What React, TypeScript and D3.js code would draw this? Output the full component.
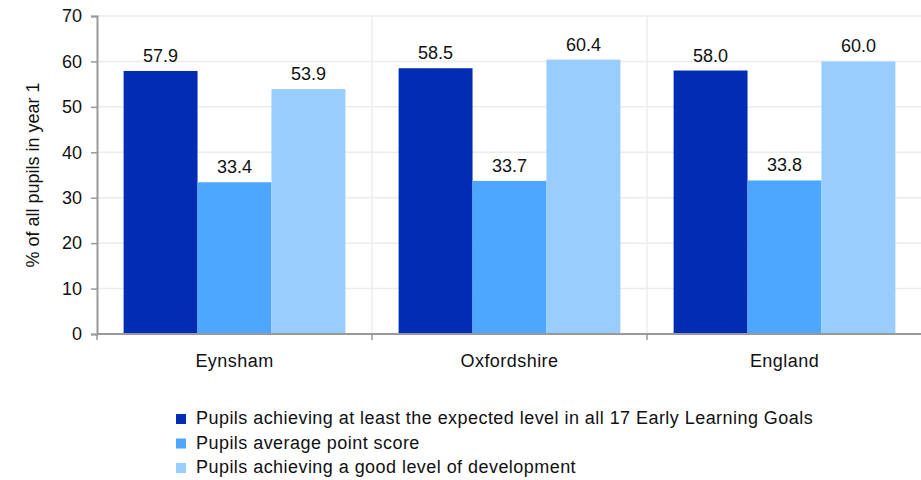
import React from 'react'
import * as d3 from 'd3'

const areas = ['Eynsham', 'Oxfordshire', 'England']
const seriesNames = [
  'Pupils achieving at least the expected level in all 17 Early Learning Goals',
  'Pupils average point score',
  'Pupils achieving a good level of development',
]
const expectedLevel = [57.9, 58.5, 58.0]
const averagePoint = [33.4, 33.7, 33.8]
const goodLevel = [53.9, 60.4, 60.0]
const yTicks = [0, 10, 20, 30, 40, 50, 60, 70]
const colours = ['#002db3', '#4da6ff', '#99ccff']

const width = 921
const height = 480
const font = 'Liberation Sans, Arial, sans-serif'
const fontSize = 18

const App: React.FunctionComponent = () => {
  const reference = React.useRef<SVGSVGElement>(null)

  React.useEffect(() => {
    const svg = d3.select(reference.current)
    svg.selectAll('*').remove()

    const left = 97
    const right = 922
    const top = 16
    const bottom = 334

    const x = d3.scaleBand<string>().domain(areas).range([left, right])
    const inner = d3
      .scaleBand<number>()
      .domain([0, 1, 2])
      .range([0, x.bandwidth()])
      .paddingOuter(0.36)
    const y = d3.scaleLinear().domain([0, 70]).range([bottom, top])

    // gridlines
    svg
      .append('g')
      .selectAll('line')
      .data(yTicks.filter(t => t > 0))
      .join('line')
      .attr('x1', left)
      .attr('x2', right)
      .attr('y1', d => y(d))
      .attr('y2', d => y(d))
      .attr('stroke', '#ececec')
      .attr('stroke-width', 1.5)

    svg
      .append('g')
      .selectAll('line')
      .data(areas.slice(1))
      .join('line')
      .attr('x1', d => x(d)!)
      .attr('x2', d => x(d)!)
      .attr('y1', top)
      .attr('y2', bottom)
      .attr('stroke', '#ececec')
      .attr('stroke-width', 1.5)

    const series = [expectedLevel, averagePoint, goodLevel]

    series.forEach((values, s) => {
      const g = svg.append('g')
      g.selectAll('rect')
        .data(values)
        .join('rect')
        .attr('x', (_, i) => x(areas[i])! + inner(s)!)
        .attr('width', inner.bandwidth())
        .attr('y', d => y(d))
        .attr('height', d => bottom - y(d))
        .attr('fill', colours[s])

      g.selectAll('text')
        .data(values)
        .join('text')
        .attr('x', (_, i) => x(areas[i])! + inner(s)! + inner.bandwidth() / 2)
        .attr('y', d => y(d) - 9)
        .attr('text-anchor', 'middle')
        .attr('font-family', font)
        .attr('font-size', fontSize)
        .attr('fill', '#111')
        .text(d => d.toFixed(1))
    })

    // y axis
    const yAxis = svg
      .append('g')
      .attr('transform', `translate(${left},0)`)
      .call(d3.axisLeft(y).tickValues(yTicks).tickSize(6).tickPadding(9))
    yAxis.select('.domain').attr('stroke', '#999').attr('stroke-width', 2)
    yAxis.selectAll('.tick line').attr('stroke', '#999').attr('stroke-width', 1.5)
    yAxis
      .selectAll('.tick text')
      .attr('font-family', font)
      .attr('font-size', fontSize)
      .attr('fill', '#111')

    // x axis
    const xAxis = svg.append('g').attr('transform', `translate(0,${bottom})`)
    xAxis
      .append('line')
      .attr('x1', left)
      .attr('x2', right)
      .attr('stroke', '#999')
      .attr('stroke-width', 2)
    xAxis
      .selectAll('line.tick')
      .data(areas)
      .join('line')
      .attr('class', 'tick')
      .attr('x1', d => x(d)!)
      .attr('x2', d => x(d)!)
      .attr('y1', 0)
      .attr('y2', 6)
      .attr('stroke', '#999')
      .attr('stroke-width', 1.5)
    xAxis
      .selectAll('text')
      .data(areas)
      .join('text')
      .attr('x', d => x(d)! + x.bandwidth() / 2)
      .attr('y', 33)
      .attr('text-anchor', 'middle')
      .attr('font-family', font)
      .attr('font-size', fontSize)
      .attr('letter-spacing', 0.45)
      .attr('fill', '#111')
      .text(d => d)

    svg
      .append('text')
      .attr('transform', `translate(39,${(top + bottom) / 2}) rotate(-90)`)
      .attr('text-anchor', 'middle')
      .attr('font-family', font)
      .attr('font-size', fontSize)
      .attr('fill', '#111')
      .text('% of all pupils in year 1')

    // legend
    const legend = svg
      .selectAll('g.legend')
      .data(seriesNames)
      .join('g')
      .attr('class', 'legend')
      .attr('transform', (_, i) => `translate(176,${414 + i * 24.5})`)
    legend
      .append('rect')
      .attr('width', 10)
      .attr('height', 10)
      .attr('fill', (_, i) => colours[i])
    legend
      .append('text')
      .attr('x', 20)
      .attr('y', 10)
      .attr('font-family', font)
      .attr('font-size', fontSize)
      .attr('letter-spacing', 0.45)
      .attr('fill', '#111')
      .text(d => d)
  }, [])

  return <svg ref={reference} width={width} height={height} style={{ position: 'absolute', left: 0, top: 0 }} />
}

export default App
